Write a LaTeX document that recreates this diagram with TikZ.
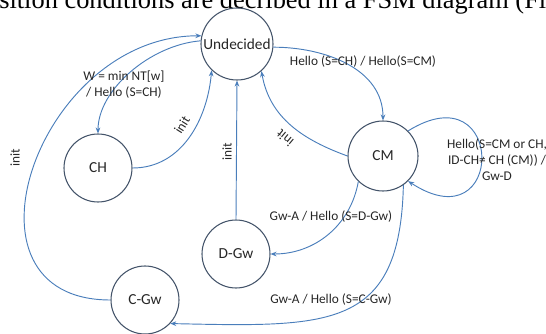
\documentclass[tikz,border=0pt]{standalone}
\usepackage{fontspec}
\setmainfont{Liberation Serif}
\newfontfamily\carlito{Carlito}
\usepackage{tikz}
\usetikzlibrary{arrows.meta}

\definecolor{edgeblue}{RGB}{74,126,187}
\definecolor{ringgray}{RGB}{68,84,106}
\definecolor{labeltext}{RGB}{38,38,38}

\begin{document}
\begin{tikzpicture}[x=0.75pt,y=0.75pt,
    fsmstate/.style={circle, draw=ringgray, line width=0.8pt, minimum size=51pt, inner sep=0pt,
      font=\carlito\fontsize{11.5}{13}\selectfont, text=labeltext},
    trans/.style={draw=edgeblue, line width=0.7pt, -{Stealth[length=4.5pt,width=3.5pt]}},
    lbl/.style={font=\carlito\fontsize{10}{12}\selectfont, text=labeltext, inner sep=1pt, align=center}]
  \clip (0,0) rectangle (546,333);

  % running text above the figure
  \node[anchor=base west, inner sep=0pt, font=\fontsize{19.8}{24}\selectfont] (runtext) at (-1,325)
    {sition conditions are decribed in a FSM diagram (Fig.};

  % States
  \node[fsmstate, minimum size=54pt] (und) at (237,289) {Undecided};
  \node[fsmstate] (ch) at (98,165) {CH};
  \node[fsmstate, minimum size=52.5pt] (cm) at (383,177) {CM};
  \node[fsmstate] (dgw) at (236,79) {D-Gw};
  \node[fsmstate] (cgw) at (145,33) {C-Gw};

  % Transitions
  \draw[trans] (und.175) .. controls (150,288) and (98,243) .. (ch.north);
  \draw[trans] (ch.east) to[out=0,in=-95] (und.-134);
  \draw[trans] (dgw.north) -- (und.south);
  \draw[trans] (cm.west) to[out=160,in=-80] (und.-48);
  \draw[trans] (und.-5) to[out=0,in=90] (cm.north);
  \draw[trans] (cm.45) .. controls (506,263) and (506,88) .. (cm.-45);
  \draw[trans] (cm.-134) to[out=-100,in=0] (dgw.east);
  \draw[trans] (cm.-55) .. controls (400,3) and (330,6) .. (cgw.-43);
  \draw[trans] (cgw.west) to[out=180,in=180,looseness=1.5] (und.167);

  % Labels
  \node[lbl] (lundch) at (124,248) {W = min NT[w]\\/ Hello (S=CH)};
  \node[lbl] (lundcm) at (363,271) {Hello (S=CH) / Hello(S=CM)};
  \node[lbl, rotate=58] (lchund) at (182,208) {init};
  \node[lbl, rotate=90] (ldgwund) at (227,181) {init};
  \node[lbl, rotate=140] (lcmund) at (285,195) {init};
  \node[lbl, rotate=90] (lcgwund) at (15,175) {init};
  \node[lbl] (lcmcm) at (497,173) {Hello(S=CM or CH,\\ID-CH≠ CH (CM)) /\\Gw-D};
  \node[lbl] (lcmdgw) at (331,116) {Gw-A / Hello (S=D-Gw)};
  \node[lbl] (lcmcgw) at (331,33) {Gw-A / Hello (S=C-Gw)};
\end{tikzpicture}
\end{document}
